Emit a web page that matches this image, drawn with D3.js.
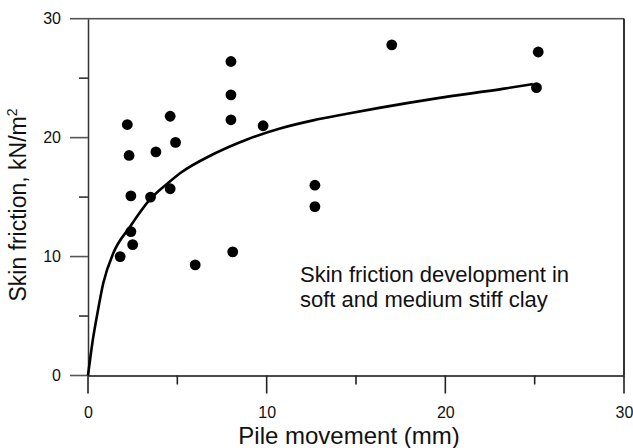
<!DOCTYPE html>
<html>
<head>
<meta charset="utf-8">
<script src="https://cdn.jsdelivr.net/npm/d3@7"></script>
<style>
  body { margin: 0; background: #fff; }
  text { font-family: Arial, "Liberation Sans", sans-serif; fill: #111; }
</style>
</head>
<body>
<svg id="chart" width="633" height="448"></svg>
<script>
// measured points (pile movement mm, skin friction kN/m2)
let movement = [2.2, 2.3, 2.4, 3.5, 4.6, 3.8, 4.6, 4.9, 8.0, 8.0, 8.0, 9.8, 12.7, 12.7, 17.0, 25.2, 25.1, 2.4, 2.5, 1.8, 6.0, 8.1];
let friction = [21.1, 18.5, 15.1, 15.0, 15.7, 18.8, 21.8, 19.6, 26.4, 23.6, 21.5, 21.0, 16.0, 14.2, 27.8, 27.2, 24.2, 12.1, 11.0, 10.0, 9.3, 10.4];

// trend curve
let curveX = [0, 0.25, 0.5, 0.86, 1.42, 2.35, 3.47, 4.5, 5.15, 7.0, 8.9, 10.7, 12.6, 14.5, 16.3, 19.5, 23.2, 24.9];
let curveY = [0, 2.8, 5.0, 7.8, 10.3, 12.5, 14.8, 16.2, 17.0, 18.6, 19.85, 20.75, 21.45, 22.0, 22.5, 23.3, 24.1, 24.5];

let xTicks = [0, 10, 20, 30];
let yTicks = [0, 10, 20, 30];
let minorX = [5, 15, 25];
let minorY = [5, 15, 25];

let noteLines = ["Skin friction development in", "soft and medium stiff clay"];

let mLeft = 88, mRight = 624, mTop = 18.7, mBottom = 375.5;

let svg = d3.select("#chart");

let x = d3.scaleLinear().domain([0, 30]).range([mLeft, mRight]);
let y = d3.scaleLinear().domain([0, 30]).range([mBottom, mTop]);

// frame: top and right edges
svg.append("rect")
  .attr("x", mLeft).attr("y", mTop - 0.8)
  .attr("width", mRight - mLeft).attr("height", 1.6)
  .attr("fill", "#555");
svg.append("rect")
  .attr("x", mRight - 0.8).attr("y", mTop)
  .attr("width", 1.6).attr("height", mBottom - mTop)
  .attr("fill", "#000");

// x axis, labels only from d3, tick marks as rects
let xAxis = svg.append("g").attr("transform", "translate(0," + mBottom + ")")
  .call(d3.axisBottom(x).tickValues(xTicks).tickSizeInner(18).tickSizeOuter(0).tickPadding(13.5).tickFormat(d3.format("d")));
xAxis.select(".domain").attr("stroke", "#111").attr("stroke-width", 1.5);
xAxis.selectAll(".tick line").remove();
xAxis.selectAll(".tick text").attr("font-size", 16).attr("font-family", "Arial, 'Liberation Sans', sans-serif").attr("fill", "#111");
xAxis.selectAll("rect.major").data(xTicks).enter().append("rect")
  .attr("class", "major")
  .attr("x", d => x(d) - 0.8).attr("y", 0).attr("width", 1.6).attr("height", 18)
  .attr("fill", "#222");
xAxis.selectAll("rect.minor").data(minorX).enter().append("rect")
  .attr("class", "minor")
  .attr("x", d => x(d) - 0.8).attr("y", 0).attr("width", 1.6).attr("height", 9)
  .attr("fill", "#222");

// y axis
let yAxis = svg.append("g").attr("transform", "translate(" + mLeft + ",0)")
  .call(d3.axisLeft(y).tickValues(yTicks).tickSizeInner(18).tickSizeOuter(0).tickPadding(9).tickFormat(d3.format("d")));
yAxis.select(".domain").attr("stroke", "#333").attr("stroke-width", 1.5);
yAxis.selectAll(".tick line").remove();
yAxis.selectAll(".tick text").attr("font-size", 16).attr("font-family", "Arial, 'Liberation Sans', sans-serif").attr("fill", "#111");
yAxis.selectAll("rect.major").data(yTicks).enter().append("rect")
  .attr("class", "major")
  .attr("x", -18).attr("y", d => y(d) - 0.8).attr("width", 18).attr("height", 1.6)
  .attr("fill", "#555");
yAxis.selectAll("rect.minor").data(minorY).enter().append("rect")
  .attr("class", "minor")
  .attr("x", -9).attr("y", d => y(d) - 0.8).attr("width", 9).attr("height", 1.6)
  .attr("fill", "#333");

// trend curve
let trend = d3.line().x(d => x(d[0])).y(d => y(d[1])).curve(d3.curveMonotoneX);
svg.append("path")
  .datum(curveX.map((v, i) => [v, curveY[i]]))
  .attr("d", trend)
  .attr("fill", "none").attr("stroke", "#000").attr("stroke-width", 2.6);

// points
svg.selectAll("circle")
  .data(movement)
  .enter()
  .append("circle")
  .attr("cx", (d, i) => x(d))
  .attr("cy", (d, i) => y(friction[i]))
  .attr("r", 5.4)
  .attr("fill", "#000");

// note
svg.append("text").attr("x", 300).attr("y", 282).attr("font-size", 22)
  .selectAll("tspan").data(noteLines).enter().append("tspan")
  .attr("x", 300).attr("dy", (d, i) => i == 0 ? 0 : 25).text(d => d);

// titles
svg.append("text").attr("x", 349).attr("y", 444).attr("text-anchor", "middle")
  .attr("font-size", 24).text("Pile movement (mm)");

let yt = svg.append("text").attr("transform", "translate(26,205) rotate(-90)")
  .attr("text-anchor", "middle").attr("font-size", 23);
yt.append("tspan").text("Skin friction, kN/m");
yt.append("tspan").attr("font-size", 14).attr("dy", -9).text("2");
</script>
</body>
</html>
